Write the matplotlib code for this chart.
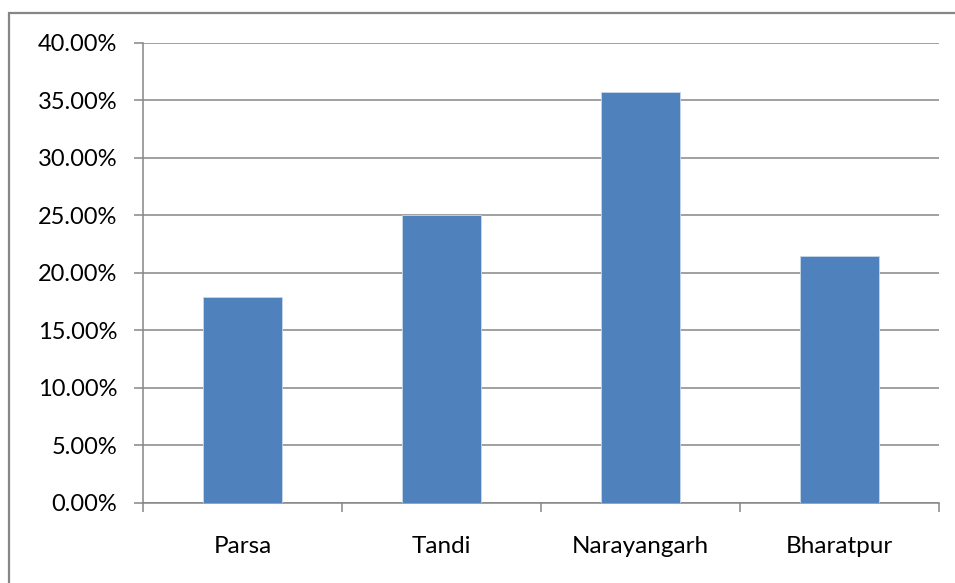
import matplotlib
matplotlib.use("Agg")
import matplotlib.pyplot as plt
from matplotlib.patches import Rectangle
from matplotlib.ticker import FuncFormatter, FixedLocator
import numpy as np

categories = ["Parsa", "Tandi", "Narayangarh", "Bharatpur"]
values = [17.86, 25.00, 35.71, 21.43]
y_ticks = [0, 5, 10, 15, 20, 25, 30, 35, 40]

plt.rcParams['font.family'] = ['Lato', 'DejaVu Sans']

fig = plt.figure(figsize=(9.55, 5.83), dpi=100)
ax = fig.add_axes([143/955, 1 - 502.7/583, (939-143)/955, (502.7-42.7)/583])

gray = "#868686"
x = np.arange(len(categories))
ax.bar(x, values, width=0.4, color="#4F81BD", edgecolor="#C9D7EA", linewidth=0.6, zorder=3)

ax.set_xlim(-0.5, len(categories) - 0.5)
ax.set_ylim(0, 40)
ax.set_yticks(y_ticks)
ax.yaxis.set_major_formatter(FuncFormatter(lambda v, p: f"{v:.2f}%"))
ax.grid(axis='y', color=gray, linewidth=1.1, zorder=1)
ax.set_axisbelow(True)

# major ticks at category boundaries, labels at centers
ax.xaxis.set_major_locator(FixedLocator(np.arange(len(categories) + 1) - 0.5))
ax.xaxis.set_major_formatter(FuncFormatter(lambda v, p: ""))
ax.xaxis.set_minor_locator(FixedLocator(x))
ax.set_xticklabels(categories, minor=True)
ax.tick_params(axis='x', which='major', direction='out', length=6.5, width=1.1, color=gray)
ax.tick_params(axis='x', which='minor', length=0, pad=24, labelsize=17.5)
ax.tick_params(axis='y', direction='out', length=6.5, width=1.1, color=gray, pad=12, labelsize=17)

for s in ['top', 'right']:
    ax.spines[s].set_visible(False)
for s in ['left', 'bottom']:
    ax.spines[s].set_color(gray)
    ax.spines[s].set_linewidth(1.1)

# outer frame
fig.patches.append(Rectangle((8.5/955, -0.05), 1.2, 1 - 13/583 + 0.05, transform=fig.transFigure,
                             fill=False, edgecolor=gray, linewidth=1.6))

fig.savefig("out.png", dpi=100)
